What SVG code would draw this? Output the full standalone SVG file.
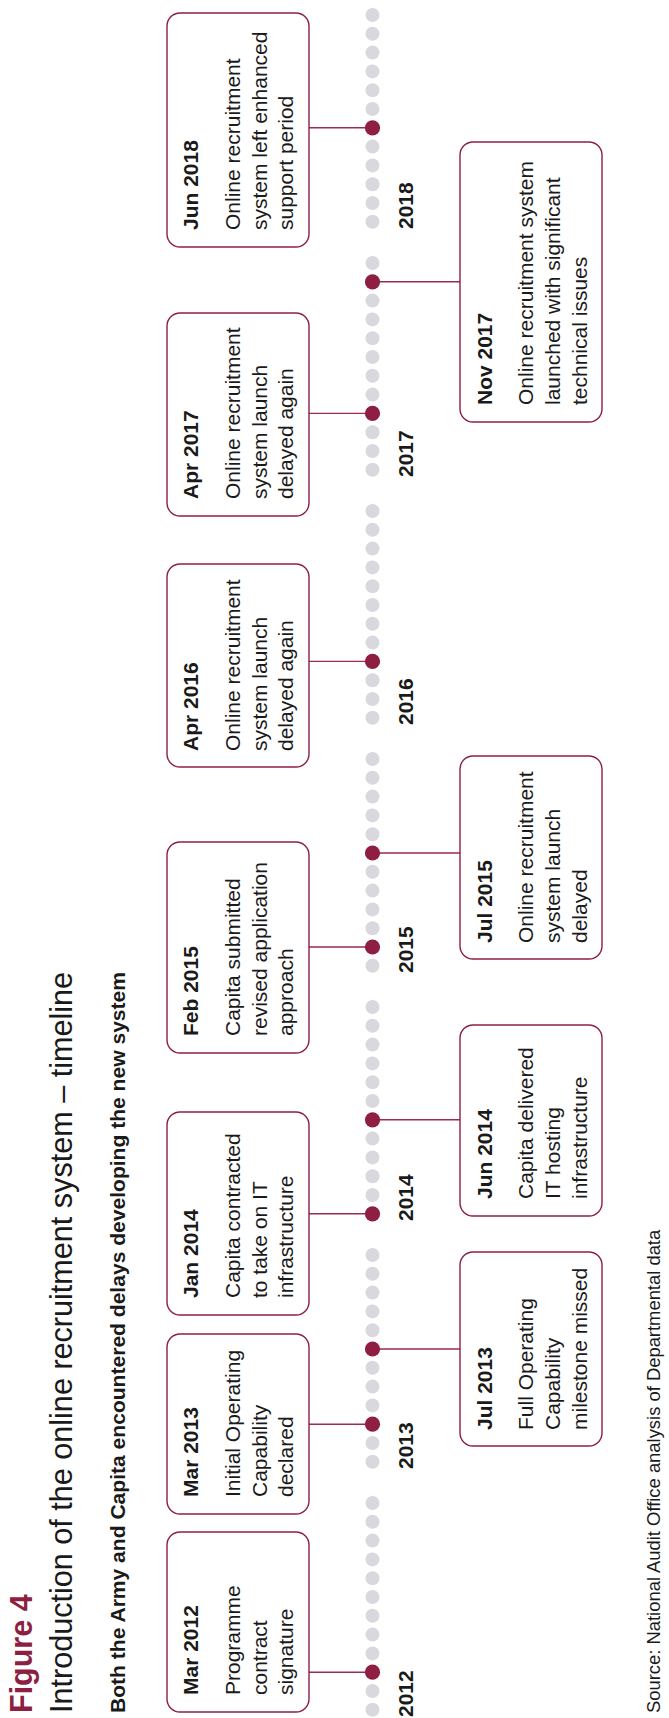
<svg xmlns="http://www.w3.org/2000/svg" width="669" height="1718" viewBox="0 0 669 1718">
<style>
.bg{fill:#ffffff}
.box{fill:#ffffff;stroke:#8e1f42;stroke-width:1.4}
.conn{stroke:#9a2a4e;stroke-width:1.4;fill:none}
.gd{fill:#d8d8de}
.rd{fill:#8e1f42}
.t{font-family:"Liberation Sans",Arial,sans-serif;fill:#1a1a1a}
.h{font-size:21px;font-weight:bold}
.b{font-size:21px;font-weight:300}
.yr{font-size:21px;font-weight:bold}
.fig{font-family:"Liberation Sans",Arial,sans-serif;font-size:30.5px;font-weight:bold;fill:#8e1f42}
.ttl{font-size:30.5px;font-weight:300}
.sub{font-size:21px;font-weight:bold}
.src{font-size:18.4px}
</style>
<rect class="bg" x="0" y="0" width="669" height="1718"/>

<g id="header">
<text class="fig" transform="translate(32,1713) rotate(-90)">Figure 4</text>
<text class="t ttl" transform="translate(72,1713) rotate(-90)" textLength="741" lengthAdjust="spacingAndGlyphs">Introduction of the online recruitment system – timeline</text>
<text class="t sub" transform="translate(125,1713) rotate(-90)" textLength="741" lengthAdjust="spacingAndGlyphs">Both the Army and Capita encountered delays developing the new system</text>
</g>

<g id="timeline">
<!-- 2018 -->
<circle class="gd" cx="372.5" cy="15" r="7"/><circle class="gd" cx="372.5" cy="33.8" r="7"/><circle class="gd" cx="372.5" cy="52.6" r="7"/><circle class="gd" cx="372.5" cy="71.4" r="7"/><circle class="gd" cx="372.5" cy="90.2" r="7"/><circle class="gd" cx="372.5" cy="109" r="7"/><circle class="gd" cx="372.5" cy="127.8" r="7"/><circle class="gd" cx="372.5" cy="146.6" r="7"/><circle class="gd" cx="372.5" cy="165.4" r="7"/><circle class="gd" cx="372.5" cy="184.2" r="7"/><circle class="gd" cx="372.5" cy="203" r="7"/><circle class="gd" cx="372.5" cy="221.8" r="7"/>
<!-- 2017 -->
<circle class="gd" cx="372.5" cy="263" r="7"/><circle class="gd" cx="372.5" cy="281.8" r="7"/><circle class="gd" cx="372.5" cy="300.6" r="7"/><circle class="gd" cx="372.5" cy="319.4" r="7"/><circle class="gd" cx="372.5" cy="338.2" r="7"/><circle class="gd" cx="372.5" cy="357" r="7"/><circle class="gd" cx="372.5" cy="375.8" r="7"/><circle class="gd" cx="372.5" cy="394.6" r="7"/><circle class="gd" cx="372.5" cy="413.4" r="7"/><circle class="gd" cx="372.5" cy="432.2" r="7"/><circle class="gd" cx="372.5" cy="451" r="7"/><circle class="gd" cx="372.5" cy="469.8" r="7"/>
<!-- 2016 -->
<circle class="gd" cx="372.5" cy="511" r="7"/><circle class="gd" cx="372.5" cy="529.8" r="7"/><circle class="gd" cx="372.5" cy="548.6" r="7"/><circle class="gd" cx="372.5" cy="567.4" r="7"/><circle class="gd" cx="372.5" cy="586.2" r="7"/><circle class="gd" cx="372.5" cy="605" r="7"/><circle class="gd" cx="372.5" cy="623.8" r="7"/><circle class="gd" cx="372.5" cy="642.6" r="7"/><circle class="gd" cx="372.5" cy="661.4" r="7"/><circle class="gd" cx="372.5" cy="680.2" r="7"/><circle class="gd" cx="372.5" cy="699" r="7"/><circle class="gd" cx="372.5" cy="717.8" r="7"/>
<!-- 2015 -->
<circle class="gd" cx="372.5" cy="759" r="7"/><circle class="gd" cx="372.5" cy="777.8" r="7"/><circle class="gd" cx="372.5" cy="796.6" r="7"/><circle class="gd" cx="372.5" cy="815.4" r="7"/><circle class="gd" cx="372.5" cy="834.2" r="7"/><circle class="gd" cx="372.5" cy="853" r="7"/><circle class="gd" cx="372.5" cy="871.8" r="7"/><circle class="gd" cx="372.5" cy="890.6" r="7"/><circle class="gd" cx="372.5" cy="909.4" r="7"/><circle class="gd" cx="372.5" cy="928.2" r="7"/><circle class="gd" cx="372.5" cy="947" r="7"/><circle class="gd" cx="372.5" cy="965.8" r="7"/>
<!-- 2014 -->
<circle class="gd" cx="372.5" cy="1007" r="7"/><circle class="gd" cx="372.5" cy="1025.8" r="7"/><circle class="gd" cx="372.5" cy="1044.6" r="7"/><circle class="gd" cx="372.5" cy="1063.4" r="7"/><circle class="gd" cx="372.5" cy="1082.2" r="7"/><circle class="gd" cx="372.5" cy="1101" r="7"/><circle class="gd" cx="372.5" cy="1119.8" r="7"/><circle class="gd" cx="372.5" cy="1138.6" r="7"/><circle class="gd" cx="372.5" cy="1157.4" r="7"/><circle class="gd" cx="372.5" cy="1176.2" r="7"/><circle class="gd" cx="372.5" cy="1195" r="7"/><circle class="gd" cx="372.5" cy="1213.8" r="7"/>
<!-- 2013 -->
<circle class="gd" cx="372.5" cy="1255" r="7"/><circle class="gd" cx="372.5" cy="1273.8" r="7"/><circle class="gd" cx="372.5" cy="1292.6" r="7"/><circle class="gd" cx="372.5" cy="1311.4" r="7"/><circle class="gd" cx="372.5" cy="1330.2" r="7"/><circle class="gd" cx="372.5" cy="1349" r="7"/><circle class="gd" cx="372.5" cy="1367.8" r="7"/><circle class="gd" cx="372.5" cy="1386.6" r="7"/><circle class="gd" cx="372.5" cy="1405.4" r="7"/><circle class="gd" cx="372.5" cy="1424.2" r="7"/><circle class="gd" cx="372.5" cy="1443" r="7"/><circle class="gd" cx="372.5" cy="1461.8" r="7"/>
<!-- 2012 -->
<circle class="gd" cx="372.5" cy="1503" r="7"/><circle class="gd" cx="372.5" cy="1521.8" r="7"/><circle class="gd" cx="372.5" cy="1540.6" r="7"/><circle class="gd" cx="372.5" cy="1559.4" r="7"/><circle class="gd" cx="372.5" cy="1578.2" r="7"/><circle class="gd" cx="372.5" cy="1597" r="7"/><circle class="gd" cx="372.5" cy="1615.8" r="7"/><circle class="gd" cx="372.5" cy="1634.6" r="7"/><circle class="gd" cx="372.5" cy="1653.4" r="7"/><circle class="gd" cx="372.5" cy="1672.2" r="7"/><circle class="gd" cx="372.5" cy="1691" r="7"/><circle class="gd" cx="372.5" cy="1709.8" r="7"/>
<!-- year labels -->
<text class="t yr" transform="translate(413,229) rotate(-90)">2018</text>
<text class="t yr" transform="translate(413,477) rotate(-90)">2017</text>
<text class="t yr" transform="translate(413,725) rotate(-90)">2016</text>
<text class="t yr" transform="translate(413,973) rotate(-90)">2015</text>
<text class="t yr" transform="translate(413,1221) rotate(-90)">2014</text>
<text class="t yr" transform="translate(413,1469) rotate(-90)">2013</text>
<text class="t yr" transform="translate(413,1717) rotate(-90)">2012</text>
</g>

<g id="connectors">
<line class="conn" x1="309" y1="127.8" x2="372.5" y2="127.8"/>
<line class="conn" x1="309" y1="413.4" x2="372.5" y2="413.4"/>
<line class="conn" x1="309" y1="661.4" x2="372.5" y2="661.4"/>
<line class="conn" x1="309" y1="947" x2="372.5" y2="947"/>
<line class="conn" x1="309" y1="1213.8" x2="372.5" y2="1213.8"/>
<line class="conn" x1="309" y1="1424.2" x2="372.5" y2="1424.2"/>
<line class="conn" x1="309" y1="1672.2" x2="372.5" y2="1672.2"/>
<line class="conn" x1="372.5" y1="281.8" x2="460" y2="281.8"/>
<line class="conn" x1="372.5" y1="853" x2="460" y2="853"/>
<line class="conn" x1="372.5" y1="1119.8" x2="460" y2="1119.8"/>
<line class="conn" x1="372.5" y1="1349" x2="460" y2="1349"/>
</g>

<g id="event-dots">
<circle class="rd" cx="372.5" cy="127.8" r="7.6"/>
<circle class="rd" cx="372.5" cy="281.8" r="7.6"/>
<circle class="rd" cx="372.5" cy="413.4" r="7.6"/>
<circle class="rd" cx="372.5" cy="661.4" r="7.6"/>
<circle class="rd" cx="372.5" cy="853" r="7.6"/>
<circle class="rd" cx="372.5" cy="947" r="7.6"/>
<circle class="rd" cx="372.5" cy="1119.8" r="7.6"/>
<circle class="rd" cx="372.5" cy="1213.8" r="7.6"/>
<circle class="rd" cx="372.5" cy="1349" r="7.6"/>
<circle class="rd" cx="372.5" cy="1424.2" r="7.6"/>
<circle class="rd" cx="372.5" cy="1672.2" r="7.6"/>
</g>

<g id="jun2018">
<rect class="box" x="167" y="13" width="142" height="234" rx="13"/>
<text class="t h" transform="translate(198,230) rotate(-90)">Jun 2018</text>
<text class="t b" transform="translate(240,230) rotate(-90)">Online recruitment</text>
<text class="t b" transform="translate(266.5,230) rotate(-90)">system left enhanced</text>
<text class="t b" transform="translate(293,230) rotate(-90)">support period</text>
</g>

<g id="apr2017">
<rect class="box" x="167" y="313" width="142" height="203" rx="13"/>
<text class="t h" transform="translate(198,499) rotate(-90)">Apr 2017</text>
<text class="t b" transform="translate(240,499) rotate(-90)">Online recruitment</text>
<text class="t b" transform="translate(266.5,499) rotate(-90)">system launch</text>
<text class="t b" transform="translate(293,499) rotate(-90)">delayed again</text>
</g>

<g id="apr2016">
<rect class="box" x="167" y="564" width="142" height="203" rx="13"/>
<text class="t h" transform="translate(198,751) rotate(-90)">Apr 2016</text>
<text class="t b" transform="translate(240,751) rotate(-90)">Online recruitment</text>
<text class="t b" transform="translate(266.5,751) rotate(-90)">system launch</text>
<text class="t b" transform="translate(293,751) rotate(-90)">delayed again</text>
</g>

<g id="feb2015">
<rect class="box" x="167" y="842" width="142" height="211" rx="13"/>
<text class="t h" transform="translate(198,1036) rotate(-90)">Feb 2015</text>
<text class="t b" transform="translate(240,1036) rotate(-90)">Capita submitted</text>
<text class="t b" transform="translate(266.5,1036) rotate(-90)">revised application</text>
<text class="t b" transform="translate(293,1036) rotate(-90)">approach</text>
</g>

<g id="jan2014">
<rect class="box" x="167" y="1112" width="142" height="203" rx="13"/>
<text class="t h" transform="translate(198,1298) rotate(-90)">Jan 2014</text>
<text class="t b" transform="translate(240,1298) rotate(-90)">Capita contracted</text>
<text class="t b" transform="translate(266.5,1298) rotate(-90)">to take on IT</text>
<text class="t b" transform="translate(293,1298) rotate(-90)">infrastructure</text>
</g>

<g id="mar2013">
<rect class="box" x="167" y="1334" width="142" height="180" rx="13"/>
<text class="t h" transform="translate(198,1497) rotate(-90)">Mar 2013</text>
<text class="t b" transform="translate(240,1497) rotate(-90)">Initial Operating</text>
<text class="t b" transform="translate(266.5,1497) rotate(-90)">Capability</text>
<text class="t b" transform="translate(293,1497) rotate(-90)">declared</text>
</g>

<g id="mar2012">
<rect class="box" x="167" y="1532" width="142" height="180" rx="13"/>
<text class="t h" transform="translate(198,1695) rotate(-90)">Mar 2012</text>
<text class="t b" transform="translate(240,1695) rotate(-90)">Programme</text>
<text class="t b" transform="translate(266.5,1695) rotate(-90)">contract</text>
<text class="t b" transform="translate(293,1695) rotate(-90)">signature</text>
</g>

<g id="nov2017">
<rect class="box" x="460" y="142" width="142" height="280" rx="13"/>
<text class="t h" transform="translate(492,405) rotate(-90)">Nov 2017</text>
<text class="t b" transform="translate(533,405) rotate(-90)">Online recruitment system</text>
<text class="t b" transform="translate(560,405) rotate(-90)">launched with significant</text>
<text class="t b" transform="translate(587,405) rotate(-90)">technical issues</text>
</g>

<g id="jul2015">
<rect class="box" x="460" y="756" width="142" height="203" rx="13"/>
<text class="t h" transform="translate(492,943) rotate(-90)">Jul 2015</text>
<text class="t b" transform="translate(533,943) rotate(-90)">Online recruitment</text>
<text class="t b" transform="translate(560,943) rotate(-90)">system launch</text>
<text class="t b" transform="translate(587,943) rotate(-90)">delayed</text>
</g>

<g id="jun2014">
<rect class="box" x="460" y="1025" width="142" height="191" rx="13"/>
<text class="t h" transform="translate(492,1199) rotate(-90)">Jun 2014</text>
<text class="t b" transform="translate(533,1199) rotate(-90)">Capita delivered</text>
<text class="t b" transform="translate(560,1199) rotate(-90)">IT hosting</text>
<text class="t b" transform="translate(587,1199) rotate(-90)">infrastructure</text>
</g>

<g id="jul2013">
<rect class="box" x="460" y="1252" width="142" height="194" rx="13"/>
<text class="t h" transform="translate(492,1430) rotate(-90)">Jul 2013</text>
<text class="t b" transform="translate(533,1430) rotate(-90)">Full Operating</text>
<text class="t b" transform="translate(560,1430) rotate(-90)">Capability</text>
<text class="t b" transform="translate(587,1430) rotate(-90)">milestone missed</text>
</g>

<g id="source">
<text class="t src" transform="translate(660,1713) rotate(-90)">Source: National Audit Office analysis of Departmental data</text>
</g>
</svg>
